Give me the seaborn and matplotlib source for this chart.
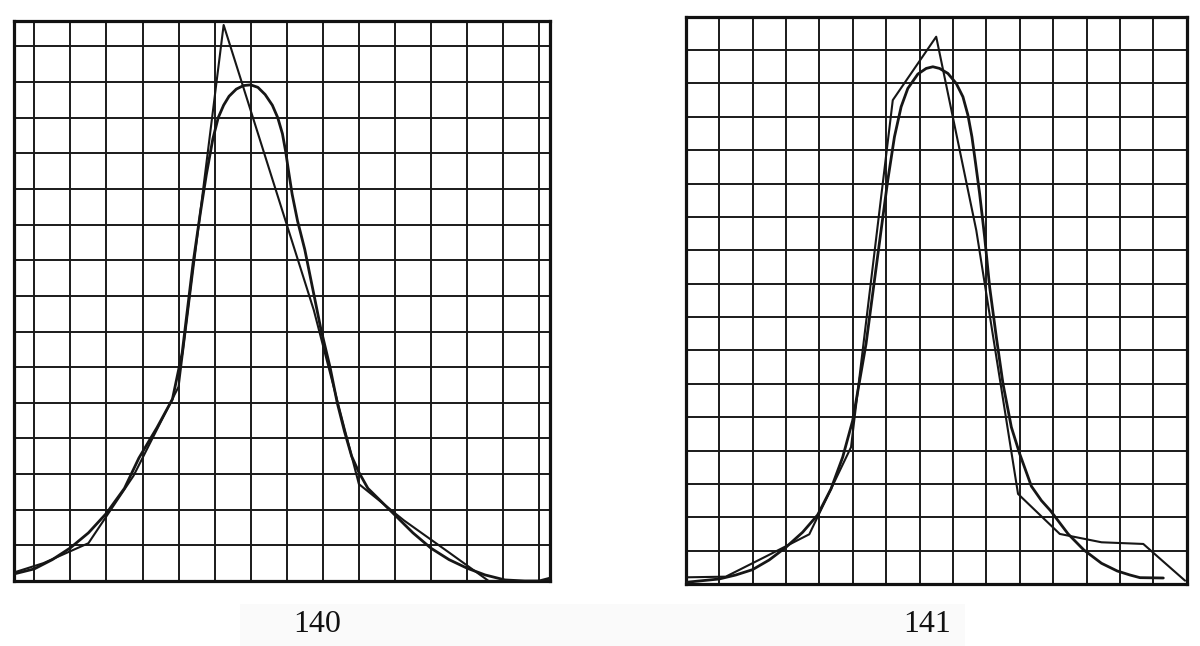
import matplotlib
matplotlib.use("Agg")
import matplotlib.pyplot as plt
import seaborn as sns
import pandas as pd
from matplotlib.patches import Rectangle

# ---------------- data (grid units) ----------------
# Figure 140 : observed frequency polygon
poly140_x = [0.0, 1.25, 2.5, 3.75, 5.0, 6.25, 7.5, 8.75, 10.0, 11.25, 12.5, 13.6, 15.3]
poly140_y = [0.1, 0.5, 1.06, 2.95, 5.45, 15.6, 11.6, 7.6, 2.72, 1.7, 0.8, 0.0, 0.0]
# Figure 140 : fitted smooth curve
curve140_x = [0.445, 1.0, 1.5, 2.0, 2.5, 3.0, 3.5, 3.9, 4.4, 4.83, 5.1, 5.28, 5.4, 5.6, 5.77, 5.95, 6.1,
              6.25, 6.4, 6.6, 6.8, 7.0, 7.2, 7.4, 7.6, 7.75, 7.88, 7.97, 8.05, 8.15, 8.3, 8.5, 8.7,
              8.94, 9.2, 9.4, 9.6, 9.8, 10.0, 10.25, 10.6, 11.0, 11.5, 12.0, 12.5, 13.0, 13.5, 14.05,
              14.6, 15.0, 15.3]
curve140_y = [0.2, 0.34, 0.6, 0.93, 1.35, 1.9, 2.6, 3.45, 4.3, 5.1, 6.4, 7.9, 8.9, 10.3, 11.4, 12.4, 13.0,
              13.35, 13.6, 13.8, 13.9, 13.92, 13.85, 13.65, 13.35, 13.0, 12.55, 12.05, 11.5, 10.85,
              10.1, 9.3, 8.3, 7.1, 6.0, 5.0, 4.2, 3.5, 3.05, 2.6, 2.25, 1.85, 1.35, 0.92, 0.6, 0.36,
              0.17, 0.03, 0.0, 0.0, 0.08]

# Figure 141 : observed frequency polygon
poly141_x = [0.0, 1.2, 2.45, 3.7, 4.95, 6.2, 7.5, 8.7, 9.95, 11.2, 12.45, 13.7, 14.95]
poly141_y = [0.2, 0.22, 0.85, 1.49, 4.1, 14.5, 16.4, 10.6, 2.7, 1.5, 1.25, 1.2, 0.1]
# Figure 141 : fitted smooth curve
curve141_x = [0.0, 1.0, 1.5, 2.0, 2.5, 3.0, 3.5, 3.95, 4.35, 4.7, 5.0, 5.4, 5.85, 6.05, 6.25, 6.45,
              6.65, 6.95, 7.2, 7.4, 7.6, 7.85, 8.1, 8.3, 8.45, 8.57, 8.68, 8.8, 8.95, 9.1, 9.3, 9.5,
              9.75, 10.0, 10.35, 10.65, 10.92, 11.45, 11.92, 12.45, 12.92, 13.3, 13.6, 14.3]
curve141_y = [0.05, 0.15, 0.27, 0.43, 0.72, 1.1, 1.55, 2.07, 2.85, 3.8, 4.9, 7.2, 10.6, 12.1, 13.4, 14.3,
              14.85, 15.28, 15.45, 15.5, 15.45, 15.3, 15.0, 14.6, 14.05, 13.4, 12.6, 11.7, 10.4, 8.9,
              7.4, 6.0, 4.7, 3.9, 2.93, 2.5, 2.2, 1.5, 1.02, 0.62, 0.39, 0.27, 0.19, 0.18]

labels = ["140", "141"]

# ---------------- figure ----------------
sns.set_style("white")
plt.rcParams['font.family'] = ['Liberation Serif', 'DejaVu Serif']

W, H = 1200, 646
fig = plt.figure(figsize=(W / 100, H / 100), dpi=100)
fig.patch.set_facecolor("white")

# faint band behind the figure numbers (scan artefact)
fig.patches.append(Rectangle((240 / W, 0), (965 - 240) / W, (646 - 604) / H,
                             transform=fig.transFigure, facecolor="#fafafa",
                             edgecolor="none", zorder=0))

def px_axes(x0, x1, ytop, ybot):
    return fig.add_axes([x0 / W, (H - ybot) / H, (x1 - x0) / W, (ybot - ytop) / H])

ax1 = px_axes(14.3, 550, 20.7, 581)
ax2 = px_axes(685.7, 1186.7, 16.7, 584)

def style(ax, xlim, ylim, xgrid, ygrid):
    ax.set_xlim(*xlim)
    ax.set_ylim(*ylim)
    for gx in xgrid:
        ax.axvline(gx, color="#1a1a1a", lw=1.4, zorder=1)
    for gy in ygrid:
        ax.axhline(gy, color="#1a1a1a", lw=1.4, zorder=1)
    ax.set_xticks([])
    ax.set_yticks([])
    ax.set_xlabel("")
    ax.set_ylabel("")
    for s in ax.spines.values():
        s.set_visible(True)
        s.set_color("#111111")
        s.set_linewidth(2.3)
    ax.set_facecolor("white")

def draw(ax, px, py, cx, cy):
    dp = pd.DataFrame({"x": px, "y": py})
    dc = pd.DataFrame({"x": cx, "y": cy})
    sns.lineplot(data=dp, x="x", y="y", ax=ax, sort=False, estimator=None,
                 color="#161616", lw=1.5, zorder=3)
    sns.lineplot(data=dc, x="x", y="y", ax=ax, sort=False, estimator=None,
                 color="#161616", lw=2.0, zorder=3)

draw(ax1, poly140_x, poly140_y, curve140_x, curve140_y)
style(ax1, (0.445, 15.30), (0, 15.72), range(1, 16), range(1, 16))

draw(ax2, poly141_x, poly141_y, curve141_x, curve141_y)
style(ax2, (0, 15), (0, 17), range(1, 15), range(1, 17))

fig.text(317 / W, 1 - 624 / H, labels[0], ha="center", va="center",
         fontsize=23, color="#111111")
fig.text(927 / W, 1 - 624 / H, labels[1], ha="center", va="center",
         fontsize=23, color="#111111")

fig.savefig("out.png", dpi=100, facecolor="white")
